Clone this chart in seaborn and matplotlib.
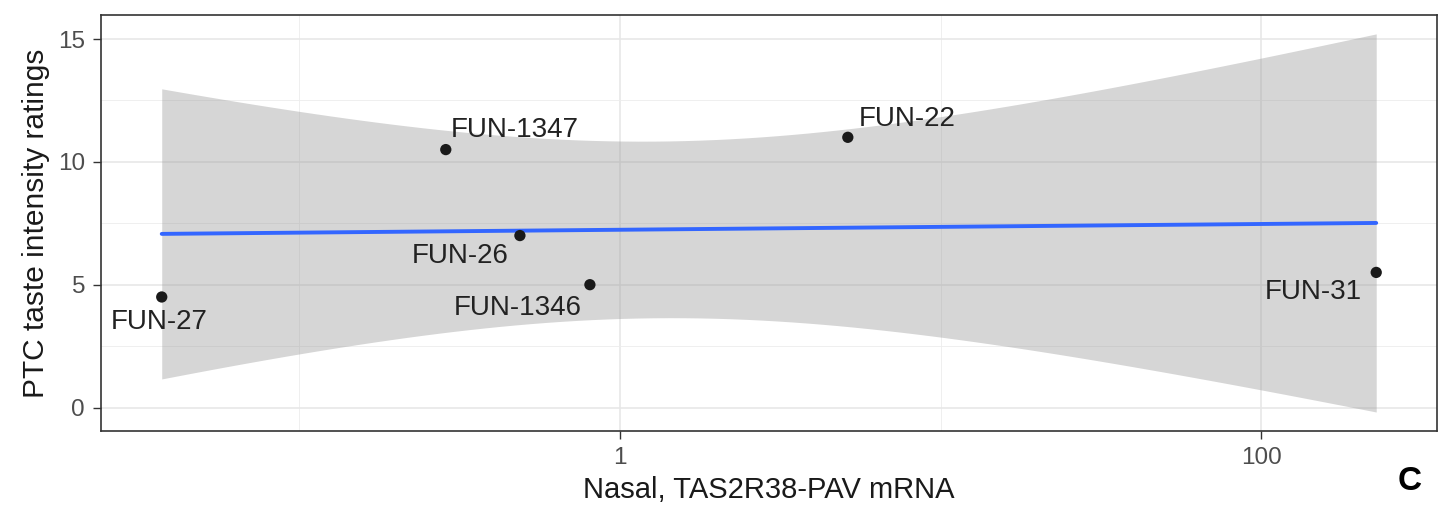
import numpy as np
import pandas as pd
import matplotlib
matplotlib.use("Agg")
import matplotlib.pyplot as plt
import matplotlib.ticker as mticker
import seaborn as sns

# data
subjects = ["FUN-27", "FUN-1347", "FUN-26", "FUN-1346", "FUN-22", "FUN-31"]
nasal_mrna = [0.0372, 0.286, 0.487, 0.805, 5.13, 228.0]
ptc_rating = [4.5, 10.5, 7.0, 5.0, 11.0, 5.5]

# label offsets (points) roughly where ggrepel put them
label_offsets = {
    "FUN-27": (-2, -18),
    "FUN-1347": (50, 14),
    "FUN-26": (-43, -15),
    "FUN-1346": (-52, -17),
    "FUN-22": (43, 13),
    "FUN-31": (-45, -14),
}

df = pd.DataFrame({"subject": subjects, "x": nasal_mrna, "y": ptc_rating})

# linear fit on log10(x), 95% confidence band like geom_smooth(method = "lm")
lx = np.log10(df["x"].to_numpy())
yv = df["y"].to_numpy()
n = len(lx)
slope, intercept = np.polyfit(lx, yv, 1)
resid = yv - (intercept + slope * lx)
s = np.sqrt(np.sum(resid ** 2) / (n - 2))
sxx = np.sum((lx - lx.mean()) ** 2)
t_crit = 2.776445  # t(0.975, df = 4)
grid = np.linspace(lx.min(), lx.max(), 80)
fit = intercept + slope * grid
se = s * np.sqrt(1 / n + (grid - lx.mean()) ** 2 / sxx)
lower, upper = fit - t_crit * se, fit + t_crit * se
fit_df = pd.DataFrame({"x": 10 ** grid, "fit": fit})

sns.set_style("white")
plt.rcParams["font.family"] = ["Liberation Sans", "DejaVu Sans"]

fig = plt.figure(figsize=(14.43, 5.13), dpi=100)
ax = fig.add_axes([0.070, 0.160, 0.9258, 0.8108])

ax.fill_between(10 ** grid, lower, upper, color="#999999", alpha=0.4,
                linewidth=0, zorder=2)
sns.lineplot(data=fit_df, x="x", y="fit", color="#3366FF", linewidth=2.8,
             ax=ax, zorder=3)
sns.scatterplot(data=df, x="x", y="y", color="#1a1a1a", s=66,
                edgecolor="none", ax=ax, zorder=4)

for _, row in df.iterrows():
    dx, dy = label_offsets[row["subject"]]
    ax.annotate(row["subject"], (row["x"], row["y"]), xytext=(dx, dy),
                textcoords="offset points", ha="center", va="center",
                fontsize=20, color="#222222", zorder=5)

ax.set_xscale("log")
span = lx.max() - lx.min()
ax.set_xlim(10 ** (lx.min() - 0.05 * span), 10 ** (lx.max() + 0.05 * span))
ymin = min(lower.min(), yv.min())
ymax = max(upper.max(), yv.max())
yspan = ymax - ymin
ax.set_ylim(ymin - 0.05 * yspan, ymax + 0.05 * yspan)

ax.xaxis.set_major_locator(mticker.FixedLocator([1, 100]))
ax.xaxis.set_major_formatter(mticker.FixedFormatter(["1", "100"]))
ax.xaxis.set_minor_locator(mticker.FixedLocator([0.1, 10]))
ax.xaxis.set_minor_formatter(mticker.NullFormatter())
ax.yaxis.set_major_locator(mticker.FixedLocator([0, 5, 10, 15]))
ax.yaxis.set_minor_locator(mticker.FixedLocator([2.5, 7.5, 12.5]))

ax.grid(which="major", color="#E6E6E6", linewidth=1.1, zorder=0)
ax.grid(which="minor", color="#EDEDED", linewidth=0.6, zorder=0)
ax.set_axisbelow(True)

ax.tick_params(which="major", length=5.5, width=1.0, color="#333333",
               labelcolor="#4D4D4D", labelsize=17.5, pad=6,
               bottom=True, left=True)
ax.tick_params(which="minor", length=0, bottom=False, left=False)

for sp in ax.spines.values():
    sp.set_color("#333333")
    sp.set_linewidth(1.2)

ax.set_xlabel("Nasal, TAS2R38-PAV mRNA", fontsize=21, color="#1a1a1a",
              labelpad=5)
ax.set_ylabel("PTC taste intensity ratings", fontsize=21.5, color="#1a1a1a",
              labelpad=6)

fig.text(1410 / 1443, 1 - 481 / 513, "C", fontsize=24, fontweight="bold",
         ha="center", va="center", color="black")

fig.savefig("out.png", dpi=100)
